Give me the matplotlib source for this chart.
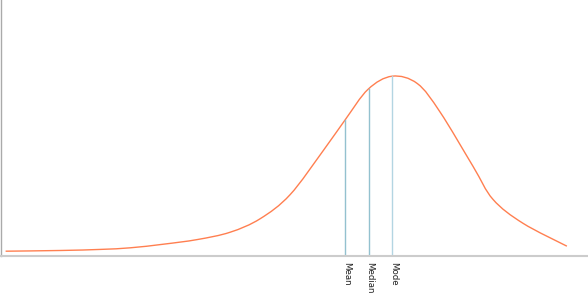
import numpy as np
import matplotlib
matplotlib.use("Agg")
import matplotlib.pyplot as plt
from matplotlib.path import Path
from matplotlib.patches import PathPatch

# curve (x: score 0-100 across the axis, y: relative density)
x_vals = [0.7, 10.1, 16.9, 22.0, 27.6, 33.4, 39.0, 44.1, 49.2, 54.9, 58.6, 62.5,
          66.6, 70.9, 74.8, 80.4, 83.8, 88.9, 96.4]
y_vals = [0.024, 0.028, 0.034, 0.043, 0.063, 0.089, 0.130, 0.205, 0.339, 0.587,
          0.757, 0.927, 1.000, 0.959, 0.799, 0.497, 0.313, 0.180, 0.052]

stat_labels = ["Mean", "Median", "Mode"]
stat_x = [58.6, 62.6, 66.6]

fig = plt.figure(figsize=(5.88, 3.03), dpi=100)
ax = fig.add_axes([1.5 / 588, 47.5 / 303, 1 - 1.5 / 588, 1 - 47.5 / 303])
ax.set_xlim(0, 100)
ax.set_ylim(0, 1.425)


def bezier_segments(xs, ys):
    # Catmull-Rom spline through the points, as cubic Bezier segments
    pts = np.column_stack([xs, ys]).astype(float)
    n = len(pts)
    segs = []
    for i in range(n - 1):
        p0 = pts[max(i - 1, 0)]
        p1 = pts[i]
        p2 = pts[i + 1]
        p3 = pts[min(i + 2, n - 1)]
        segs.append((p1, p1 + (p2 - p0) / 6.0, p2 - (p3 - p1) / 6.0, p2))
    return segs


segs = bezier_segments(x_vals, y_vals)
verts = [segs[0][0]]
codes = [Path.MOVETO]
for a, b, c, d in segs:
    verts += [b, c, d]
    codes += [Path.CURVE4] * 3
ax.add_patch(PathPatch(Path(verts, codes), facecolor="none",
                       edgecolor="#ff7f50", lw=1.0))


def curve_height(xq):
    # height of the drawn curve at xq
    t = np.linspace(0, 1, 400)[:, None]
    for a, b, c, d in segs:
        if a[0] <= xq <= d[0]:
            pts = ((1 - t) ** 3) * a + 3 * ((1 - t) ** 2) * t * b + 3 * (1 - t) * t * t * c + t ** 3 * d
            return float(np.interp(xq, pts[:, 0], pts[:, 1]))
    return 0.0


line_colors = ["#93c1cf", "#93c1cf", "#b3d5e2"]
for lbl, xs, c in zip(stat_labels, stat_x, line_colors):
    ax.plot([xs, xs], [0, curve_height(xs)], color=c, lw=1.0)
    ax.annotate(lbl, xy=(xs, 0), xycoords="data", xytext=(1.0, -5.0),
                textcoords="offset points", rotation=270, ha="center", va="top",
                fontsize=6.2, color="#222222", annotation_clip=False)

for s in ["top", "right"]:
    ax.spines[s].set_visible(False)
ax.spines["left"].set_color("#aaaaaa")
ax.spines["left"].set_linewidth(1.0)
ax.spines["bottom"].set_color("#cccccc")
ax.spines["bottom"].set_linewidth(1.5)
ax.set_xticks([])
ax.set_yticks([])

fig.savefig("out.png", dpi=100)
